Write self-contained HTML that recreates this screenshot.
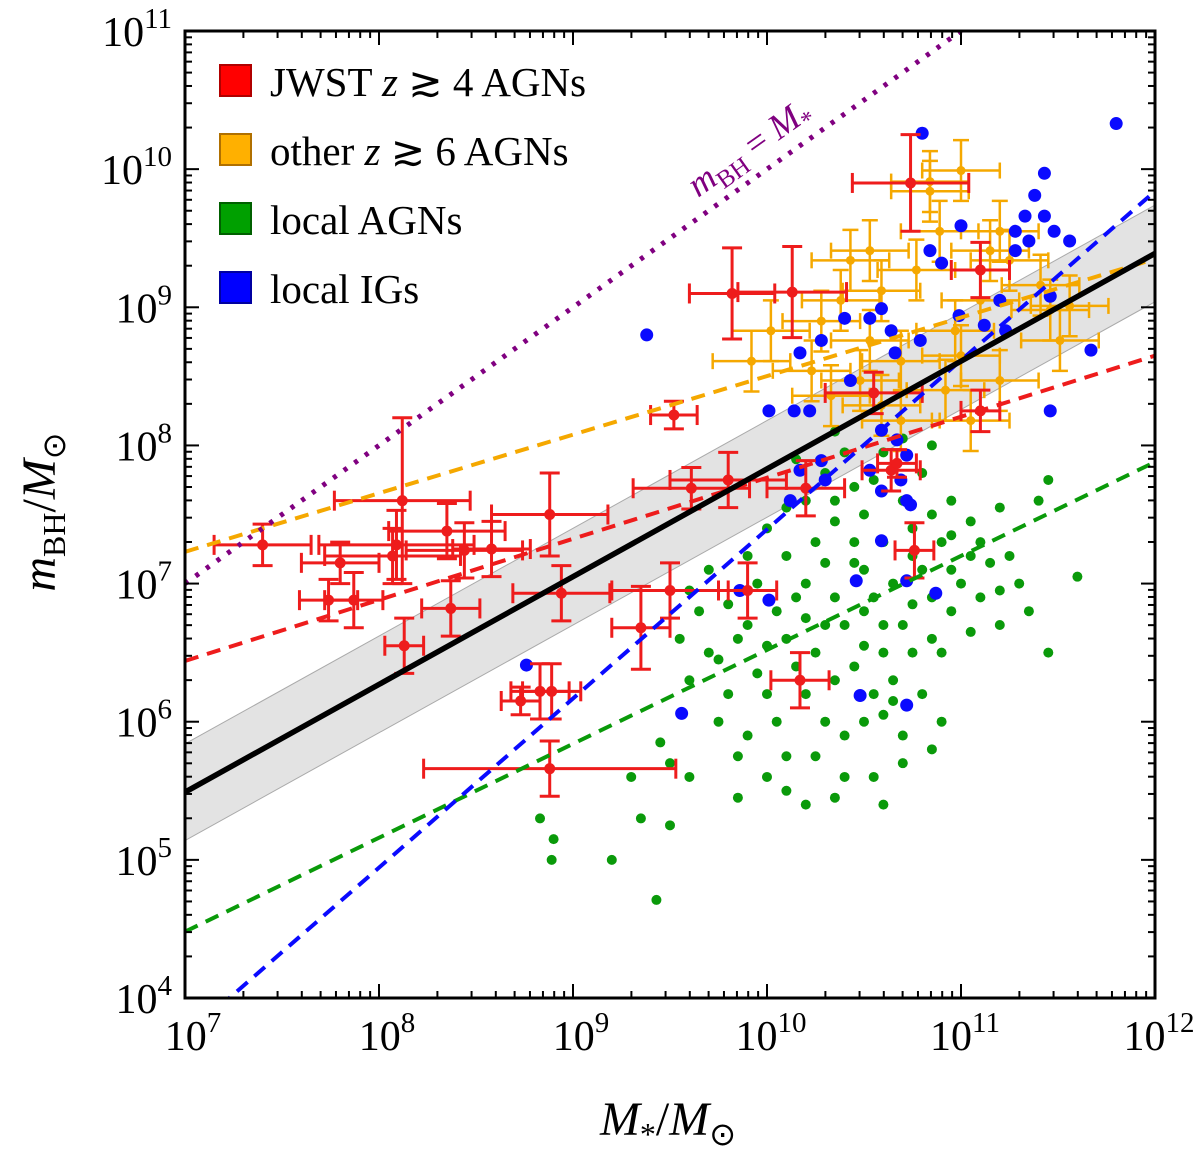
<!DOCTYPE html>
<html><head><meta charset="utf-8"><style>
body{margin:0;background:#fff}
svg{font-family:"Liberation Serif",serif}
</style></head><body>
<svg id="chart" width="1200" height="1150" xmlns="http://www.w3.org/2000/svg">
<defs><clipPath id="clip"><rect x="185" y="31" width="970" height="967"/></clipPath></defs>
<g id="plot" clip-path="url(#clip)"></g>
<g id="axes"></g>
</svg>
<script>
// ---- data (log10 values) ----
const xTicks=[7,8,9,10,11,12];
const yTicks=[4,5,6,7,8,9,10,11];
// [logM*, logMbh, xerr, yerr]
const redPts=[[10.74,9.9,0.3,0.35],[9.82,9.1,0.22,0.33],[10.13,9.11,0.28,0.33],[9.52,8.22,0.12,0.1],[8.12,7.6,0.35,0.6],[8.09,7.28,0.4,0.25],[8.07,7.2,0.35,0.2],[8.35,7.38,0.3,0.2],[8.44,7.24,0.3,0.2],[8.58,7.25,0.2,0.2],[8.88,7.5,0.3,0.3],[7.4,7.28,0.25,0.15],[7.8,7.15,0.2,0.15],[7.87,6.88,0.15,0.2],[7.74,6.88,0.15,0.15],[8.13,6.55,0.1,0.2],[8.37,6.82,0.15,0.2],[8.94,6.93,0.25,0.2],[9.5,6.95,0.3,0.2],[9.35,6.68,0.15,0.3],[9.9,6.95,0.15,0.2],[9.61,7.69,0.3,0.15],[9.8,7.75,0.3,0.2],[10.2,7.69,0.2,0.2],[10.64,7.82,0.15,0.15],[10.67,7.87,0.1,0.1],[10.76,7.24,0.1,0.2],[10.55,8.38,0.25,0.15],[11.1,8.25,0.1,0.15],[11.1,9.27,0.15,0.2],[10.17,6.3,0.15,0.2],[8.89,6.22,0.15,0.2],[8.83,6.22,0.15,0.2],[8.88,5.66,0.65,0.2],[8.73,6.15,0.1,0.1]];
const orangePts=[[10.84,9.84],[11.0,9.99],[10.89,9.55],[10.77,9.27],[10.59,9.12],[10.43,9.34],[10.28,8.9],[10.02,8.83],[9.92,8.61],[10.53,8.76],[10.69,8.61],[10.48,8.47],[10.33,8.36],[10.23,8.54],[11.0,8.65],[11.1,9.05],[11.15,9.41],[11.25,9.34],[11.41,9.16],[11.46,8.98],[11.51,8.76],[11.56,9.01],[11.2,9.55],[10.92,8.4],[11.05,8.18],[10.69,8.18],[10.59,8.29],[10.38,9.05],[10.53,9.41],[10.84,9.91],[11.2,8.47],[10.97,8.83]];
const orangeErr=[0.2,0.22];
const bluePts=[[10.8,10.26],[11.8,10.33],[11.43,9.97],[11.38,9.81],[11.33,9.66],[11.28,9.55],[11.35,9.48],[11.43,9.66],[11.48,9.55],[11.56,9.48],[11.28,9.41],[10.84,9.41],[10.9,9.32],[11.0,9.59],[10.59,8.99],[10.4,8.92],[10.28,8.76],[10.17,8.67],[10.14,8.25],[10.22,8.25],[10.01,8.25],[10.66,8.67],[10.64,8.83],[10.53,8.92],[9.38,8.8],[10.79,8.76],[10.99,8.94],[11.12,8.87],[11.2,9.05],[10.59,8.11],[10.67,8.04],[10.72,7.93],[10.69,7.75],[10.59,7.67],[10.53,7.82],[10.28,7.89],[10.17,7.82],[10.3,7.75],[10.12,7.6],[10.72,7.6],[10.74,7.57],[10.59,7.31],[10.46,7.02],[10.72,7.02],[10.87,6.93],[10.01,6.88],[9.86,6.95],[8.76,6.41],[9.56,6.06],[10.48,6.19],[10.72,6.12],[11.46,8.25],[11.67,8.69],[11.46,9.08],[11.23,8.83],[10.43,8.47]];
const greenPts=[[9.43,4.71],[8.89,5.0],[8.83,5.3],[8.9,5.15],[9.2,5.0],[9.35,5.3],[9.5,5.25],[9.6,5.6],[9.5,5.7],[9.45,5.85],[9.3,5.6],[9.85,5.45],[10.0,5.6],[10.2,5.4],[10.35,5.45],[10.1,5.75],[9.9,5.9],[9.75,6.0],[9.8,6.2],[9.95,6.35],[9.7,6.5],[9.85,6.6],[9.65,6.8],[9.6,6.95],[9.7,7.1],[9.95,7.0],[10.05,6.8],[10.1,6.6],[10.15,6.4],[10.2,6.2],[10.3,6.0],[10.4,5.9],[10.35,6.3],[10.25,6.5],[10.3,6.7],[10.35,6.9],[10.2,7.0],[10.1,7.2],[10.25,7.3],[10.35,7.45],[10.2,7.6],[10.3,7.8],[10.45,7.7],[10.5,7.5],[10.45,7.3],[10.5,7.1],[10.55,6.9],[10.6,6.7],[10.5,6.55],[10.45,6.4],[10.55,6.2],[10.6,6.05],[10.7,5.9],[10.65,6.3],[10.75,6.5],[10.7,6.7],[10.75,6.85],[10.65,7.0],[10.8,7.1],[10.85,6.9],[10.9,7.3],[10.95,7.1],[11.0,7.0],[11.05,7.2],[11.1,7.3],[11.15,7.15],[11.2,6.95],[11.25,7.2],[11.3,7.0],[11.2,6.7],[11.35,6.8],[11.45,6.5],[11.6,7.05],[11.4,7.6],[11.45,7.75],[11.2,7.55],[11.05,7.45],[10.95,7.6],[10.85,7.5],[10.8,7.8],[10.85,8.0],[10.7,8.05],[10.6,7.95],[10.4,7.95],[10.35,8.1],[10.15,7.9],[10.1,7.55],[10.0,7.4],[9.9,7.2],[10.55,5.6],[10.7,5.7],[10.8,6.2],[10.9,6.5],[10.95,6.8],[10.4,6.7],[10.6,7.3],[10.75,7.4],[10.0,6.2],[10.05,6.0],[9.9,6.7],[10.15,6.9],[10.5,6.0],[10.9,6.0],[11.1,6.9],[9.55,6.6],[9.75,6.45],[10.25,5.75],[10.4,5.6],[10.6,5.4],[10.85,5.8],[10.35,7.6],[10.55,7.75],[10.75,7.2],[10.95,7.35],[9.8,6.85],[10.0,6.55],[10.2,6.75],[10.6,6.5],[10.85,6.6],[11.05,6.65],[10.45,7.15],[10.3,7.15],[10.7,7.6],[9.6,6.3],[9.85,5.75],[10.1,5.5],[10.5,6.8],[10.65,6.15]];
// relations: [value at logM*=7, value at logM*=12]
const bestFit=[5.49,9.39];
const bandHalf=[0.35];
const orangeFit=[7.23,9.35];
const redFit=[6.44,8.65];
const greenFit=[4.48,7.88];
const blueFit=[3.72,9.84];

// ---- scales ----
const X0=185,X1=1155,Y0=998,Y1=31;
const sx=v=>X0+(v-7)/5*(X1-X0);
const sy=v=>Y0-(v-4)/7*(Y0-Y1);
const NS="http://www.w3.org/2000/svg";
function mk(tag,attrs,parent){const e=document.createElementNS(NS,tag);for(const k in attrs)e.setAttribute(k,attrs[k]);parent.appendChild(e);return e;}
const plot=document.getElementById('plot'),axes=document.getElementById('axes');
const lineAt=(f,x)=>f[0]+(f[1]-f[0])*(x-7)/5;

let band=mk('polygon',{points:[[7,bestFit[0]+bandHalf[0]],[12,bestFit[1]+bandHalf[0]],[12,bestFit[1]-bandHalf[0]],[7,bestFit[0]-bandHalf[0]]].map(p=>sx(p[0])+','+sy(p[1])).join(' '),fill:'#e3e3e3',stroke:'#aaa','stroke-width':1},plot);



greenPts.forEach(p=>{const c=mk('circle',{cx:sx(p[0]),cy:sy(p[1]),r:5,fill:'#0a9a0a'},plot);

});

orangePts.forEach(p=>{const g=mk('g',{stroke:'#f5a800','stroke-width':2.5,fill:'#f5a800'},plot);


const ex=orangeErr[0],ey=orangeErr[1];
mk('line',{x1:sx(p[0]-ex),x2:sx(p[0]+ex),y1:sy(p[1]),y2:sy(p[1])},g);
mk('line',{x1:sx(p[0]),x2:sx(p[0]),y1:sy(p[1]-ey),y2:sy(p[1]+ey)},g);
[-ex,ex].forEach(d=>mk('line',{x1:sx(p[0]+d),x2:sx(p[0]+d),y1:sy(p[1])-8,y2:sy(p[1])+8},g));
[-ey,ey].forEach(d=>mk('line',{x1:sx(p[0])-8,x2:sx(p[0])+8,y1:sy(p[1]+d),y2:sy(p[1]+d)},g));
mk('circle',{cx:sx(p[0]),cy:sy(p[1]),r:4.5,stroke:'none'},g);});

bluePts.forEach(p=>{const c=mk('circle',{cx:sx(p[0]),cy:sy(p[1]),r:6.5,fill:'#0a0aff'},plot);

});

redPts.forEach(p=>{const g=mk('g',{stroke:'#ee1c1c','stroke-width':3,fill:'#ee1c1c'},plot);


const ex=p[2],ey=p[3];
mk('line',{x1:sx(p[0]-ex),x2:sx(p[0]+ex),y1:sy(p[1]),y2:sy(p[1])},g);
mk('line',{x1:sx(p[0]),x2:sx(p[0]),y1:sy(p[1]-ey),y2:sy(p[1]+ey)},g);
[-ex,ex].forEach(d=>mk('line',{x1:sx(p[0]+d),x2:sx(p[0]+d),y1:sy(p[1])-10,y2:sy(p[1])+10},g));
[-ey,ey].forEach(d=>mk('line',{x1:sx(p[0])-10,x2:sx(p[0])+10,y1:sy(p[1]+d),y2:sy(p[1]+d)},g));
mk('circle',{cx:sx(p[0]),cy:sy(p[1]),r:5.5,stroke:'none'},g);});

function rel(f,color,name,dash,w){const l=mk('line',{x1:sx(7),y1:sy(lineAt(f,7)),x2:sx(12),y2:sy(lineAt(f,12)),stroke:color,'stroke-width':w,'stroke-dasharray':dash,fill:'none'},plot);

}
rel(orangeFit,'#f5a800','other-agn-fit','14,9',4);
rel(redFit,'#ee1c1c','jwst-agn-fit','14,9',4);
rel(greenFit,'#0a9a0a','local-agn-fit','14,9',4);
rel(blueFit,'#0a0aff','local-ig-fit','14,9',4);
rel(bestFit,'#000','best-fit-line','none',5.5);
const pl=mk('line',{x1:sx(7),y1:sy(7),x2:sx(11),y2:sy(11),stroke:'#800080','stroke-width':5,'stroke-dasharray':'4,9'},plot);



const fr=mk('rect',{x:X0,y:Y1,width:X1-X0,height:Y0-Y1,fill:'none',stroke:'#000','stroke-width':3},axes);


for(let d=7;d<12;d++)for(let k=1;k<10;k++){const x=sx(d+Math.log10(k)),L=k==1?14:7;
mk('line',{x1:x,x2:x,y1:Y0,y2:Y0-L,stroke:'#000','stroke-width':2},axes);
mk('line',{x1:x,x2:x,y1:Y1,y2:Y1+L,stroke:'#000','stroke-width':2},axes);}
for(let d=4;d<11;d++)for(let k=1;k<10;k++){const y=sy(d+Math.log10(k)),L=k==1?14:7;
mk('line',{x1:X0,x2:X0+L,y1:y,y2:y,stroke:'#000','stroke-width':2},axes);
mk('line',{x1:X1,x2:X1-L,y1:y,y2:y,stroke:'#000','stroke-width':2},axes);}
function sup(x,y,v,anchor,name){const t=mk('text',{x:x,y:y,'font-size':42,'text-anchor':anchor},axes);


t.innerHTML='10<tspan dy="-18" font-size="29">'+v+'</tspan>';}
xTicks.forEach(v=>sup(sx(v)+(v>=10?4:8),1050,v,'middle','x-tick-label'));
yTicks.forEach(v=>sup(172,sy(v)+15,v,'end','y-tick-label'));
</script>
<script>
const svg=document.getElementById('chart');
svg.insertAdjacentHTML('beforeend',`
<g font-size="41">
<rect x="220" y="65" width="31" height="31" fill="#ff0000" stroke="#b00000" stroke-width="2"/>
<text x="270" y="96">JWST <tspan font-style="italic">z</tspan> ≳ 4 AGNs</text>
<rect x="220" y="134" width="31" height="31" fill="#ffb000" stroke="#b07000" stroke-width="2"/>
<text x="270" y="165">other <tspan font-style="italic">z</tspan> ≳ 6 AGNs</text>
<rect x="220" y="203" width="31" height="31" fill="#00a000" stroke="#006000" stroke-width="2"/>
<text x="270" y="234">local AGNs</text>
<rect x="220" y="272" width="31" height="31" fill="#0000ff" stroke="#0000a0" stroke-width="2"/>
<text x="270" y="303">local IGs</text>
</g>
<text x="698" y="198" fill="#800080" font-size="36" transform="rotate(-35.4 698 198)"><tspan font-style="italic">m</tspan><tspan font-size="25" dy="8">BH</tspan><tspan dy="-8"> = </tspan><tspan font-style="italic">M</tspan><tspan font-size="25" dy="8">*</tspan></text>
<text x="55" y="512" font-size="48" text-anchor="middle" transform="rotate(-90 55 512)"><tspan font-style="italic">m</tspan><tspan font-size="32" dy="10">BH</tspan><tspan dy="-10">/</tspan><tspan font-style="italic">M</tspan><tspan font-size="32" dy="10">⊙</tspan></text>
<text x="668" y="1135" font-size="48" text-anchor="middle"><tspan font-style="italic">M</tspan><tspan font-size="32" dy="10">*</tspan><tspan dy="-10">/</tspan><tspan font-style="italic">M</tspan><tspan font-size="32" dy="10">⊙</tspan></text>
`);
</script>
</body></html>
